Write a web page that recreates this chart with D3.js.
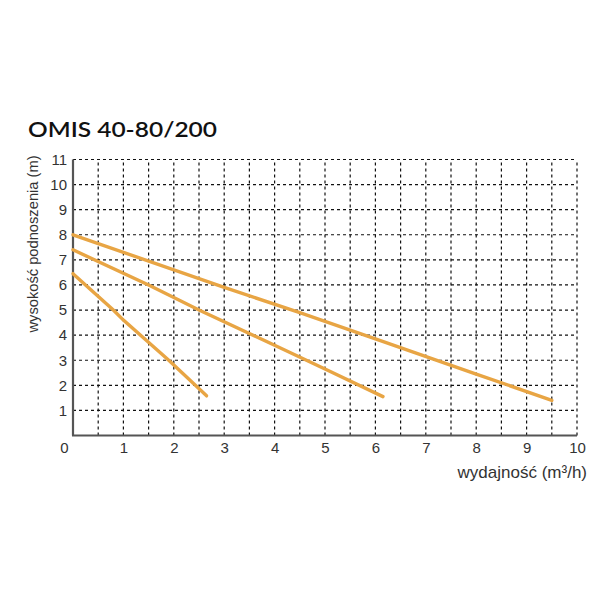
<!DOCTYPE html>
<html><head><meta charset="utf-8">
<script src="https://cdn.jsdelivr.net/npm/d3@7"></script>
<style>body{margin:0;background:#fff}</style>
</head><body>
<script>
const title = "OMIS 40-80/200";
const xLabel = "wydajność (m³/h)";
const yLabel = "wysokość podnoszenia (m)";
const xTicks = [0,1,2,3,4,5,6,7,8,9,10];
const yTicks = [1,2,3,4,5,6,7,8,9,10,11];
const curveA = [[0,8.0],[3,5.9],[4.5,4.9],[6,3.85],[8,2.45],[9.5,1.4]];
const curveB = [[0,7.4],[1.5,6.0],[2.5,5.0],[4,3.6],[5,2.65],[6.15,1.55]];
const curveC = [[0,6.45],[0.8,5.0],[1.0,4.6],[1.9,3.0],[2.65,1.58]];
const curves = [curveA, curveB, curveC];

const W=600,H=600;
const svg=d3.select("body").append("svg").attr("width",W).attr("height",H);
const x=d3.scaleLinear().domain([0,10]).range([73,577]);
const y=d3.scaleLinear().domain([0,11]).range([435.5,159.5]);

svg.append("text").attr("x",28).attr("y",137).text(title)
  .attr("font-family","Lato").attr("font-weight",600).attr("font-size",21)
  .attr("textLength",189).attr("lengthAdjust","spacingAndGlyphs")
  .attr("fill","#111");

const grid=svg.append("g").attr("stroke","#111").attr("stroke-width",1.2).attr("stroke-dasharray","3,3");
d3.range(1,21).forEach(i=>{const v=i/2;
  grid.append("line").attr("x1",x(v)).attr("x2",x(v)).attr("y1",y(0)).attr("y2",y(11));});
yTicks.forEach(v=>grid.append("line").attr("x1",x(0)).attr("x2",x(10)).attr("y1",y(v)).attr("y2",y(v)));

const xa=svg.append("g").attr("transform",`translate(0,${y(0)})`)
  .call(d3.axisBottom(x).tickValues(xTicks).tickSize(0).tickPadding(7).tickFormat(d3.format("d")));
const ya=svg.append("g").attr("transform",`translate(${x(0)},0)`)
  .call(d3.axisLeft(y).tickValues(yTicks).tickSize(0).tickPadding(6).tickFormat(d3.format("d")));
[xa,ya].forEach(a=>{a.select(".domain").attr("stroke","#555").attr("stroke-width",2.2);
  a.selectAll("text").attr("font-family","Liberation Sans").attr("font-size",15).attr("fill","#333");});
xa.selectAll(".tick").filter(d=>d===0).select("text").attr("dx",-9);
ya.select(".domain").attr("d",`M0,${y(11)}V${y(0)}`);
xa.select(".domain").attr("d",`M${x(0)-1},0H${x(10)}`);

const line=d3.line().x(d=>x(d[0])).y(d=>y(d[1]));
curves.forEach(c=>svg.append("path").attr("d",line(c)).attr("fill","none")
  .attr("stroke","#E8A544").attr("stroke-width",3.4).attr("stroke-linecap","round"));

svg.append("text").attr("x",587).attr("y",478).attr("text-anchor","end").text(xLabel)
  .attr("font-family","Liberation Sans").attr("font-size",17).attr("fill","#333");
svg.append("text").attr("transform","translate(38,244) rotate(-90)").attr("text-anchor","middle").text(yLabel)
  .attr("font-family","Liberation Sans").attr("font-size",14.7).attr("fill","#333");
</script>
</body></html>
